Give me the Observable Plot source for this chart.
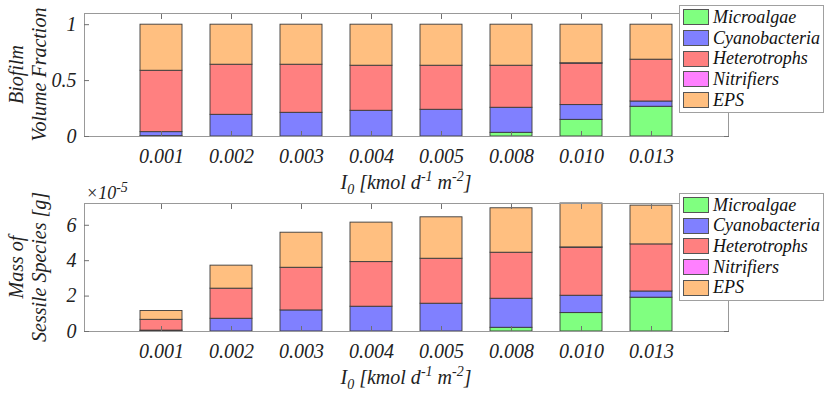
<!DOCTYPE html>
<html><head><meta charset="utf-8">
<style>
body{margin:0;background:#fff;}
#wrap{position:relative;width:830px;height:395px;overflow:hidden;font-family:'Liberation Serif','Times New Roman',Times,serif;font-style:italic;}
.panel{position:absolute;left:0;}
.panel svg{overflow:visible;}
.legend{position:absolute;left:679px;width:143px;background:#fff;border:1px solid #a0a0a0;padding:1px 0 1.5px 0;font-size:18px;color:#111;font-family:'Liberation Serif','Times New Roman',Times,serif;font-style:italic;}
.legend .row{display:flex;align-items:center;height:20.7px;}
.legend .sw{width:24px;height:14px;border:1px solid #555;margin-left:3px;margin-right:4px;flex:none;}
</style>
<script src="https://cdn.jsdelivr.net/npm/d3@7"></script>
<script src="https://cdn.jsdelivr.net/npm/@observablehq/plot@0.6"></script>
</head><body><div id="wrap"></div>
<script>
const intensities = ["0.001","0.002","0.003","0.004","0.005","0.008","0.010","0.013"];
const species = ["Microalgae","Cyanobacteria","Heterotrophs","Nitrifiers","EPS"];
const speciesColors = ["#80ff80","#8080ff","#ff8080","#ff80ff","#ffbf80"];

// Biofilm volume fraction per species
const fracMicroalgae    = [0.003, 0.000, 0.000, 0.000, 0.000, 0.033, 0.149, 0.266];
const fracCyanobacteria = [0.036, 0.194, 0.212, 0.230, 0.239, 0.224, 0.132, 0.047];
const fracHeterotrophs  = [0.549, 0.448, 0.430, 0.403, 0.394, 0.376, 0.370, 0.374];
const fracNitrifiers    = [0.000, 0.000, 0.000, 0.000, 0.000, 0.000, 0.004, 0.000];
const fracEPS           = [0.412, 0.358, 0.358, 0.367, 0.367, 0.367, 0.345, 0.313];

// Mass of sessile species, in units of 1e-5 g
const massMicroalgae    = [0.01, 0.00, 0.00, 0.00, 0.00, 0.21, 1.04, 1.91];
const massCyanobacteria = [0.04, 0.72, 1.19, 1.40, 1.57, 1.64, 0.98, 0.35];
const massHeterotrophs  = [0.61, 1.70, 2.41, 2.52, 2.54, 2.60, 2.71, 2.66];
const massNitrifiers    = [0.00, 0.00, 0.00, 0.00, 0.00, 0.00, 0.02, 0.00];
const massEPS           = [0.50, 1.30, 1.98, 2.23, 2.34, 2.51, 2.48, 2.19];

const fracTicks = [0, 0.5, 1];
const massTicks = [0, 2, 4, 6];

const FONT = "Liberation Serif, Times New Roman, Times, serif";

function longRows(series) {
  const rows = [];
  intensities.forEach((I, i) => species.forEach((s, j) => rows.push({I, species: s, value: series[j][i]})));
  return rows;
}

const wrap = document.getElementById("wrap");
const tickColor = "#707070";

function styledText(sel, size) {
  return sel.attr("font-family", FONT).attr("font-style", "italic").attr("font-size", size).attr("fill", "#222");
}

function panel({rows, yDomain, yTicks, top, height, marginBottom, ylabel}) {
  const svg = Plot.plot({
    width: 830, height,
    marginTop: 13, marginBottom, marginLeft: 84, marginRight: 102,
    style: {fontFamily: FONT, fontStyle: "italic", fontSize: "20px", color: "#222", background: "transparent"},
    x: {type: "band", domain: intensities, paddingInner: 0.4, paddingOuter: 0.8, label: null},
    y: {domain: yDomain, label: null},
    color: {domain: species, range: speciesColors},
    marks: [
      Plot.barY(rows, {x: "I", y: "value", fill: "species", stroke: "#3a3a3a", strokeWidth: 0.9, order: species}),
      Plot.frame({stroke: "#999", strokeWidth: 1}),
      Plot.axisX({anchor: "bottom", tickSize: -5, tickFormat: () => "", stroke: tickColor, label: null}),
      Plot.axisX({anchor: "top", tickSize: -5, tickFormat: () => "", stroke: tickColor, label: null}),
      Plot.axisX({anchor: "bottom", tickSize: 0, tickPadding: 12, label: null, fontSize: 20}),
      Plot.axisY({anchor: "left", ticks: yTicks, tickSize: -5, tickFormat: () => "", stroke: tickColor, label: null}),
      Plot.axisY({anchor: "right", ticks: yTicks, tickSize: -5, tickFormat: () => "", stroke: tickColor, label: null}),
      Plot.axisY({anchor: "left", ticks: yTicks, tickSize: 0, tickPadding: 8, tickFormat: d => String(d), label: null, fontSize: 20})
    ]
  });
  const div = document.createElement("div");
  div.className = "panel";
  div.style.top = top + "px";
  div.appendChild(svg);
  wrap.appendChild(div);

  const g = d3.select(svg);
  g.selectAll("text").attr("font-family", FONT).attr("font-style", "italic");
  const frameBottom = height - marginBottom;
  // x label
  const xl = styledText(g.append("text"), "20px")
    .attr("x", 406).attr("y", frameBottom + 53)
    .attr("text-anchor", "middle");
  xl.append("tspan").text("I");
  xl.append("tspan").attr("dy", 5).attr("font-size", "14px").text("0");
  xl.append("tspan").attr("dy", -5).text(" [kmol d");
  xl.append("tspan").attr("dy", -8).attr("font-size", "14px").text("-1");
  xl.append("tspan").attr("dy", 8).text(" m");
  xl.append("tspan").attr("dy", -8).attr("font-size", "14px").text("-2");
  xl.append("tspan").attr("dy", 8).text("]");
  // y label (two lines)
  const cy = (13 + frameBottom) / 2;
  ylabel.forEach((line, k) => {
    styledText(g.append("text"), "20px")
      .attr("transform", `translate(${23 + 23 * k},${cy}) rotate(-90)`)
      .attr("text-anchor", "middle")
      .text(line);
  });
  return g;
}

panel({
  rows: longRows([fracMicroalgae, fracCyanobacteria, fracHeterotrophs, fracNitrifiers, fracEPS]),
  yDomain: [0, 1.1], yTicks: fracTicks, top: 0, height: 190, marginBottom: 54,
  ylabel: ["Biofilm", "Volume Fraction"]
});
const g2 = panel({
  rows: longRows([massMicroalgae, massCyanobacteria, massHeterotrophs, massNitrifiers, massEPS]),
  yDomain: [0, 7.23], yTicks: massTicks, top: 190, height: 205, marginBottom: 64,
  ylabel: ["Mass of", "Sessile Species [g]"]
});
const ex = styledText(g2.append("text"), "18px").attr("x", 86).attr("y", 9).attr("text-anchor", "start");
ex.append("tspan").attr("font-size", "18px").text("×10");
ex.append("tspan").attr("dy", -7).attr("font-size", "14px").text("-5");

function legend(top) {
  const lg = document.createElement("div");
  lg.className = "legend";
  lg.style.top = top + "px";
  species.forEach((s, i) => {
    const row = document.createElement("div");
    row.className = "row";
    const sw = document.createElement("span");
    sw.className = "sw";
    sw.style.background = speciesColors[i];
    const t = document.createElement("span");
    t.textContent = s;
    row.appendChild(sw); row.appendChild(t);
    lg.appendChild(row);
  });
  wrap.appendChild(lg);
}
legend(5);
legend(192.7);
</script></body></html>
